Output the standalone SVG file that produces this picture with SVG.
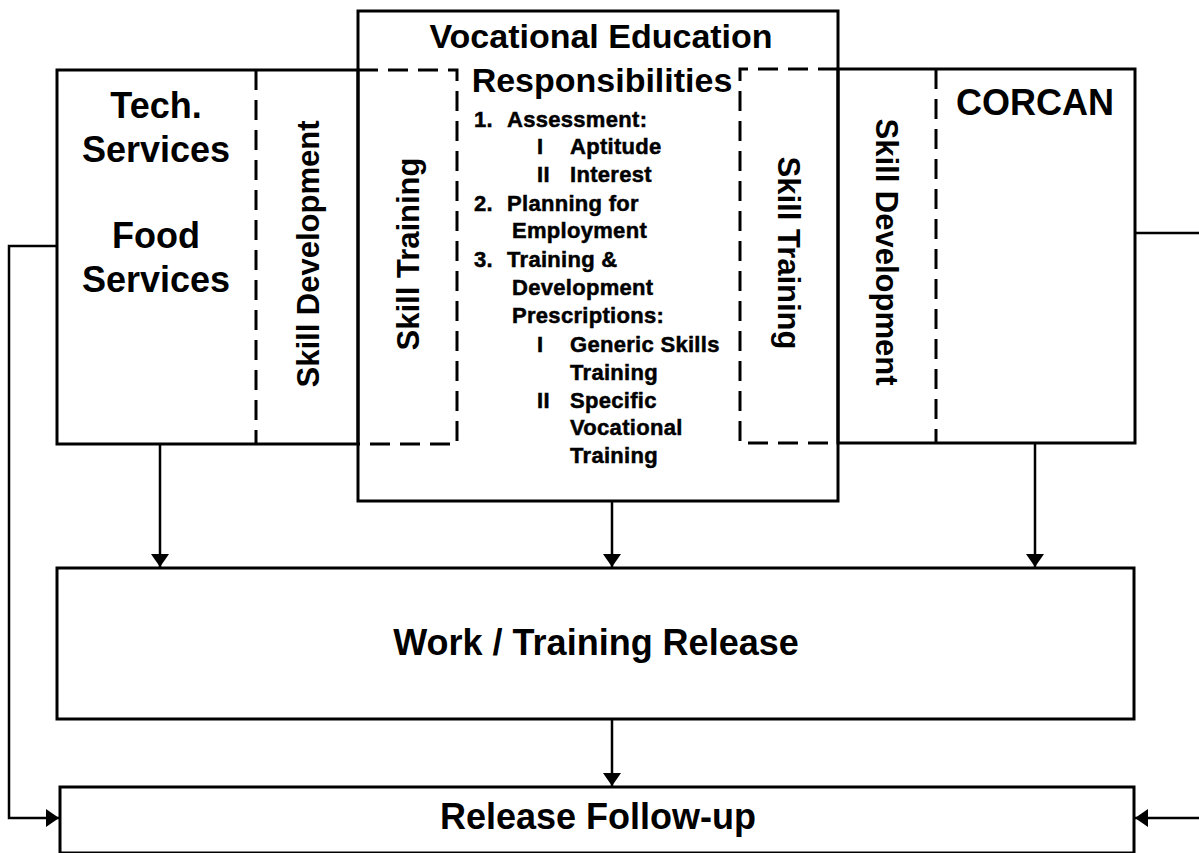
<svg xmlns="http://www.w3.org/2000/svg" width="1199" height="853" viewBox="0 0 1199 853">
  <style>
    .box { fill: none; stroke: #000; stroke-width: 3; }
    .dash { fill: none; stroke: #000; stroke-width: 3; stroke-dasharray: 20 10; }
    .conn { fill: none; stroke: #000; stroke-width: 2.5; }
    text { font-family: "Liberation Sans", Arial, sans-serif; font-weight: bold; fill: #000; }
    .big { font-size: 36px; }
    .title { font-size: 34px; }
    .side { font-size: 31px; }
    .item { font-size: 22px; letter-spacing: 0.3px; stroke: #000; stroke-width: 0.5; }
    .mid { text-anchor: middle; }
  </style>
  <defs>
    <marker id="arrow" viewBox="0 0 13 18" refX="13" refY="9" markerWidth="13" markerHeight="18" markerUnits="userSpaceOnUse" orient="auto">
      <path d="M0,0 L13,9 L0,18 z" fill="#000"/>
    </marker>
  </defs>
  <rect width="1199" height="853" fill="#fff"/>

  <!-- Vocational Education block -->
  <g id="vocational">
    <rect class="box" x="358" y="11" width="480" height="490"/>
    <text class="title mid" x="601" y="48">Vocational Education</text>
    <text class="title mid" x="602" y="92">Responsibilities</text>
    <text class="item" x="474" y="127">1.</text>
    <text class="item" x="507" y="127">Assessment:</text>
    <text class="item" x="537" y="154">I</text>
    <text class="item" x="570" y="154">Aptitude</text>
    <text class="item" x="537" y="182">II</text>
    <text class="item" x="570" y="182">Interest</text>
    <text class="item" x="474" y="211">2.</text>
    <text class="item" x="507" y="211">Planning for</text>
    <text class="item" x="512" y="238">Employment</text>
    <text class="item" x="474" y="267">3.</text>
    <text class="item" x="507" y="267">Training &amp;</text>
    <text class="item" x="512" y="295">Development</text>
    <text class="item" x="512" y="323">Prescriptions:</text>
    <text class="item" x="537" y="352">I</text>
    <text class="item" x="570" y="352">Generic Skills</text>
    <text class="item" x="570" y="380">Training</text>
    <text class="item" x="537" y="408">II</text>
    <text class="item" x="570" y="408">Specific</text>
    <text class="item" x="570" y="435">Vocational</text>
    <text class="item" x="570" y="463">Training</text>
  </g>

  <!-- Tech. / Food Services block with its skill development strip -->
  <g id="services">
    <rect class="box" x="57" y="70" width="301" height="374"/>
    <line class="dash" x1="256" y1="70" x2="256" y2="444"/>
    <text class="big mid" x="156" y="118">Tech.</text>
    <text class="big mid" x="156" y="162">Services</text>
    <text class="big mid" x="156" y="248">Food</text>
    <text class="big mid" x="156" y="292">Services</text>
    <text class="side mid" x="319" y="254" transform="rotate(-90 319 254)">Skill Development</text>
  </g>

  <!-- Left skill training strip -->
  <g id="skill-training-left">
    <path class="dash" d="M358,70 H457 V444 H358"/>
    <text class="side mid" x="419" y="254" transform="rotate(-90 419 254)">Skill Training</text>
  </g>

  <!-- Right skill training strip -->
  <g id="skill-training-right">
    <path class="dash" d="M838,69 H740 V443 H838"/>
    <text class="side mid" x="778" y="253" transform="rotate(90 778 253)">Skill Training</text>
  </g>

  <!-- CORCAN block with its skill development strip -->
  <g id="corcan">
    <rect class="box" x="838" y="69" width="297" height="374"/>
    <line class="dash" x1="936" y1="69" x2="936" y2="443"/>
    <text class="big mid" x="1035" y="115">CORCAN</text>
    <text class="side mid" x="876" y="252" transform="rotate(90 876 252)">Skill Development</text>
  </g>

  <!-- Work / Training Release -->
  <g id="work-release">
    <rect class="box" x="57" y="568" width="1077" height="151"/>
    <text class="big mid" x="596" y="655">Work / Training Release</text>
  </g>

  <!-- Release Follow-up -->
  <g id="follow-up">
    <rect class="box" x="60" y="787" width="1074" height="66"/>
    <text class="big mid" x="598" y="829">Release Follow-up</text>
  </g>

  <!-- Connectors -->
  <g id="connectors">
    <line class="conn" x1="160" y1="444" x2="160" y2="567" marker-end="url(#arrow)"/>
    <line class="conn" x1="612" y1="501" x2="612" y2="567" marker-end="url(#arrow)"/>
    <line class="conn" x1="1035" y1="443" x2="1035" y2="567" marker-end="url(#arrow)"/>
    <line class="conn" x1="612" y1="719" x2="612" y2="786" marker-end="url(#arrow)"/>
    <path class="conn" d="M57,246 H9 V818 H59" marker-end="url(#arrow)"/>
    <line class="conn" x1="1135" y1="233" x2="1199" y2="233"/>
    <path class="conn" d="M1199,818 H1135" marker-end="url(#arrow)"/>
  </g>
</svg>
